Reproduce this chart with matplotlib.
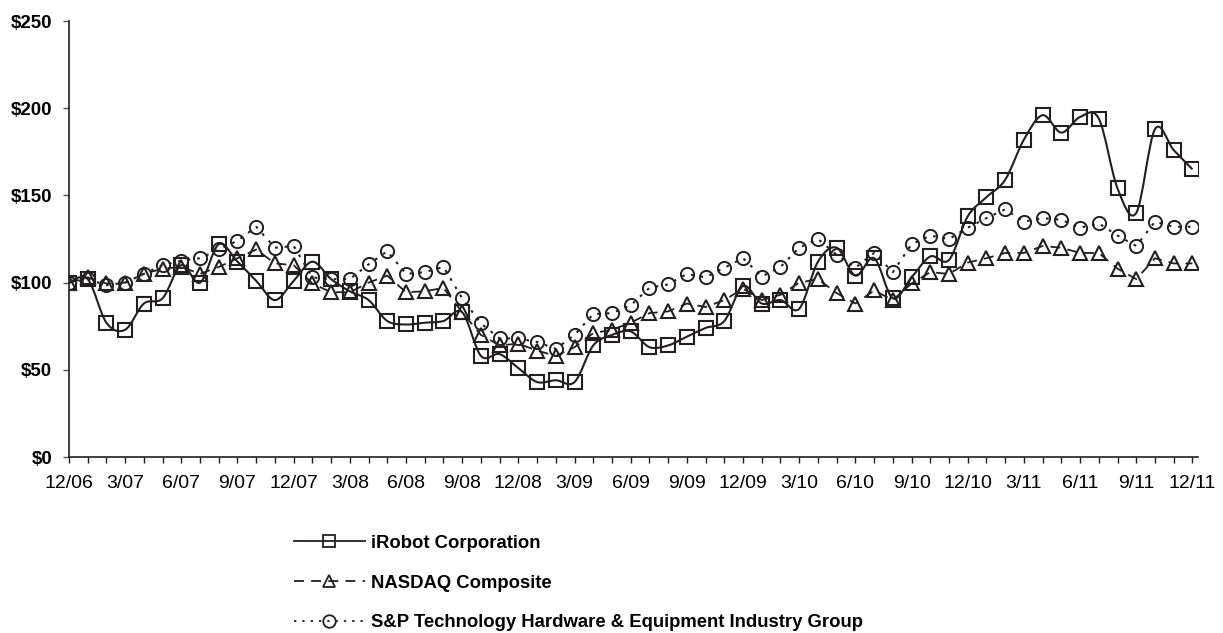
import numpy as np
import matplotlib
matplotlib.use("Agg")
import matplotlib.pyplot as plt
from matplotlib.path import Path
from matplotlib.patches import PathPatch
from matplotlib.lines import Line2D

plt.rcParams['font.family'] = ['Liberation Sans', 'DejaVu Sans']

# monthly cumulative total return, 12/06 .. 12/11
irobot = [100, 102, 77, 73, 88, 91, 110, 100, 122, 112, 101, 90, 101, 112, 102, 95,
          90, 78, 76, 77, 78, 83, 58, 59, 51, 43, 44, 43, 64, 70, 72, 63, 64, 69, 74,
          78, 98, 88, 90, 85, 112, 120, 104, 114, 91, 103, 115, 113, 138, 149, 159,
          182, 196, 186, 195, 194, 154, 140, 188, 176, 165]
nasdaq = [100, 103, 99.5, 100, 105, 108, 109, 105, 109, 114, 119, 111, 110, 99.5, 94.5,
          94.5, 100, 104, 94.5, 95, 97, 83, 70, 64, 65, 61, 58, 63, 71, 73, 77, 82.5,
          83.5, 88, 86, 90, 96.5, 90, 93, 100, 102, 94, 88, 95.5, 90, 99.5, 106, 105,
          111.5, 114, 117, 117, 121, 120, 117, 117, 108, 102, 114, 111, 111]
sp_tech = [100, 102, 98.5, 100, 105, 110, 112.6, 114, 119, 124, 132, 120, 121, 103, 102,
           102, 110.5, 118, 105, 106, 109, 91, 76.6, 68, 68, 66, 62, 70, 82, 82.5, 87,
           97, 99, 105, 103, 108.5, 114, 103.5, 109, 120, 125, 116, 108.5, 117, 106,
           122, 127, 125, 131.5, 137, 142, 135, 137, 136, 131.5, 134, 127, 121, 135,
           132, 132]
tick_labels = ['12/06', '3/07', '6/07', '9/07', '12/07', '3/08', '6/08', '9/08', '12/08',
               '3/09', '6/09', '9/09', '12/09', '3/10', '6/10', '9/10', '12/10', '3/11',
               '6/11', '9/11', '12/11']
y_labels = ['$0', '$50', '$100', '$150', '$200', '$250']

ink = '#231f20'
dash = (0, (5.5, 4))
dots = (0, (1.3, 3.3))
months = np.arange(len(irobot))

fig = plt.figure(figsize=(12.23, 6.33), dpi=100)
ax = fig.add_axes([0.0564, 0.278, 0.9232, 0.6888])


def smooth_path(xs, ys):
    # Excel-style smoothed line as cubic Bezier segments
    pts = np.column_stack([xs, ys]).astype(float)
    n = len(pts)
    verts = [pts[0]]
    codes = [Path.MOVETO]
    for i in range(n - 1):
        p0 = pts[max(i - 1, 0)]
        p1 = pts[i]
        p2 = pts[i + 1]
        p3 = pts[min(i + 2, n - 1)]
        c1 = p1 + (p2 - p0) / 6.0
        c2 = p2 - (p3 - p1) / 6.0
        verts += [c1, c2, p2]
        codes += [Path.CURVE4] * 3
    return Path(verts, codes)


ax.add_patch(PathPatch(smooth_path(months, irobot), facecolor='none',
                       edgecolor=ink, lw=1.5))
ax.plot(months, irobot, ls='none', marker='s', ms=9.5, mfc='none', mec=ink, mew=1.5)
ax.plot(months, nasdaq, ls=dash, color=ink, lw=1.3, marker='^', ms=10,
        mfc='none', mec=ink, mew=1.5)
ax.plot(months, sp_tech, ls=dots, color=ink, lw=1.5, marker='o', ms=9.5,
        mfc='none', mec=ink, mew=1.4)

ax.set_xlim(0, 60.3)
ax.set_ylim(0, 250)
ax.set_xticks(months)
ax.set_xticklabels([tick_labels[i // 3] if i % 3 == 0 else '' for i in months])
ax.set_yticks(np.arange(0, 251, 50))
ax.set_yticklabels(y_labels, fontweight='bold')
ax.tick_params(axis='x', length=4, width=1, color=ink, pad=9, labelsize=14)
ax.tick_params(axis='y', length=4, width=1, color='#555555', pad=8, labelsize=13.5)
for s in ['top', 'right']:
    ax.spines[s].set_visible(False)
for s in ['left', 'bottom']:
    ax.spines[s].set_color(ink)
    ax.spines[s].set_linewidth(1.2)

handles = [
    Line2D([], [], color=ink, lw=1.3, marker='s', ms=9, mfc='none', mec=ink, mew=1.3),
    Line2D([], [], color=ink, lw=1.3, ls=dash, marker='^', ms=9, mfc='none',
           mec=ink, mew=1.3),
    Line2D([], [], color=ink, lw=1.3, ls=dots, marker='o', ms=9, mfc='none',
           mec=ink, mew=1.3),
]
names = ['iRobot Corporation', 'NASDAQ Composite',
         'S&P Technology Hardware & Equipment Industry Group']
fig.legend(handles, names, loc='upper left', bbox_to_anchor=(0.2331, 0.17),
           frameon=False, numpoints=1, handlelength=3.8, handletextpad=0.37,
           labelspacing=1.24, borderpad=0, prop={'weight': 'bold', 'size': 13.3})

fig.savefig('out.png', dpi=100)
